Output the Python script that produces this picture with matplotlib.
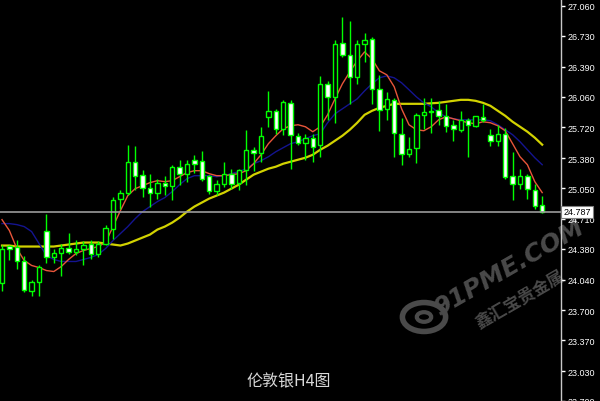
"""伦敦银 H4 K线图（MT4 风格）。"""

import matplotlib

matplotlib.use("Agg")
import matplotlib.pyplot as plt
from matplotlib.patches import Circle, Rectangle

OPEN = [
    23.997, 24.408, 24.405, 24.240, 23.909, 24.008, 24.581, 24.284, 24.339, 24.394,
    24.350, 24.383, 24.438, 24.320, 24.438, 24.603, 24.926, 25.000, 25.341, 25.190,
    25.055, 24.996, 25.107, 25.074, 25.286, 25.209, 25.356, 25.349, 25.179, 25.022,
    25.099, 25.209, 25.107, 25.253, 25.466, 25.440, 25.834, 25.906, 25.705, 25.991,
    25.624, 25.547, 25.606, 25.521, 26.201, 26.054, 26.649, 26.520, 26.274, 26.641,
    26.696, 26.146, 25.925, 26.024, 25.650, 25.429, 25.492, 25.859, 25.906, 25.914,
    25.851, 25.741, 25.694, 25.796, 25.735, 25.840, 25.639, 25.565, 25.650, 25.184,
    25.091, 25.184, 25.025, 24.860,
]
HIGH = [
    24.419, 24.427, 24.474, 24.295, 24.034, 24.199, 24.761, 24.383, 24.430, 24.559,
    24.474, 24.463, 24.474, 24.463, 24.647, 24.956, 25.025, 25.529, 25.514, 25.245,
    25.201, 25.154, 25.184, 25.300, 25.356, 25.356, 25.418, 25.455, 25.190, 25.135,
    25.338, 25.256, 25.264, 25.686, 25.503, 25.724, 26.127, 25.925, 26.017, 26.017,
    25.661, 25.650, 25.650, 26.292, 26.237, 26.689, 26.935, 26.898, 26.689, 26.762,
    26.715, 26.300, 26.109, 26.043, 25.823, 25.613, 25.881, 26.043, 26.043, 26.013,
    25.980, 25.796, 25.906, 25.823, 25.851, 25.980, 25.697, 25.741, 25.712, 25.448,
    25.264, 25.209, 25.099, 24.963,
]
LOW = [
    23.912, 24.254, 24.155, 23.898, 23.862, 23.854, 24.218, 24.218, 24.085, 24.317,
    24.306, 24.199, 24.265, 24.284, 24.419, 24.493, 24.823, 24.978, 25.025, 24.952,
    24.846, 24.934, 24.970, 24.915, 25.080, 25.118, 25.220, 25.124, 24.981, 24.970,
    25.063, 25.044, 25.025, 25.080, 25.234, 25.338, 25.724, 25.650, 25.631, 25.264,
    25.521, 25.356, 25.338, 25.393, 25.796, 25.771, 26.501, 25.980, 26.201, 26.440,
    25.980, 25.675, 25.804, 25.393, 25.300, 25.393, 25.330, 25.697, 25.661, 25.749,
    25.668, 25.565, 25.668, 25.393, 25.724, 25.779, 25.514, 25.514, 25.154, 24.915,
    25.044, 24.934, 24.823, 24.779,
]
CLOSE = [
    24.383, 24.375, 24.240, 23.920, 24.008, 24.184, 24.284, 24.339, 24.394, 24.350,
    24.383, 24.427, 24.328, 24.438, 24.614, 24.923, 25.000, 25.341, 25.179, 25.052,
    25.000, 25.110, 25.074, 25.286, 25.209, 25.319, 25.319, 25.154, 25.018, 25.099,
    25.209, 25.099, 25.253, 25.466, 25.440, 25.620, 25.906, 25.705, 25.999, 25.631,
    25.551, 25.606, 25.503, 26.201, 26.054, 26.641, 26.523, 26.281, 26.641, 26.685,
    26.146, 25.917, 26.035, 25.661, 25.429, 25.484, 25.859, 25.895, 25.889, 25.851,
    25.735, 25.697, 25.796, 25.741, 25.845, 25.796, 25.565, 25.642, 25.173, 25.091,
    25.184, 25.036, 24.853, 24.787,
]

# 均线（红：快线，蓝：中线，黄：慢线）
MA_FAST = [
    24.702, 24.581, 24.383, 24.251, 24.196, 24.173, 24.140, 24.129, 24.184, 24.262,
    24.328, 24.361, 24.383, 24.405, 24.449, 24.625, 24.801, 24.967, 25.044, 25.077,
    25.110, 25.132, 25.121, 25.132, 25.176, 25.220, 25.242, 25.242, 25.209, 25.187,
    25.187, 25.198, 25.209, 25.242, 25.319, 25.418, 25.540, 25.628, 25.705, 25.738,
    25.749, 25.727, 25.672, 25.727, 25.859, 26.035, 26.201, 26.333, 26.454, 26.553,
    26.476, 26.344, 26.300, 26.168, 25.925, 25.749, 25.694, 25.683, 25.727, 25.804,
    25.837, 25.815, 25.793, 25.771, 25.760, 25.782, 25.771, 25.738, 25.683, 25.540,
    25.396, 25.308, 25.121, 25.000,
]
MA_MID = [
    24.658, 24.658, 24.647, 24.625, 24.570, 24.438, 24.306, 24.262, 24.240, 24.240,
    24.240, 24.262, 24.284, 24.317, 24.383, 24.471, 24.548, 24.625, 24.713, 24.790,
    24.846, 24.901, 24.945, 25.011, 25.088, 25.154, 25.187, 25.187, 25.187, 25.176,
    25.187, 25.209, 25.231, 25.264, 25.319, 25.352, 25.396, 25.451, 25.496, 25.540,
    25.562, 25.595, 25.628, 25.650, 25.771, 25.870, 25.925, 25.980, 26.035, 26.123,
    26.201, 26.267, 26.289, 26.267, 26.212, 26.135, 26.057, 25.991, 25.947, 25.881,
    25.837, 25.815, 25.804, 25.804, 25.804, 25.804, 25.793, 25.749, 25.694, 25.639,
    25.562, 25.473, 25.385, 25.308,
]
MA_SLOW = [
    24.416, 24.416, 24.405, 24.405, 24.405, 24.405, 24.405, 24.405, 24.416, 24.427,
    24.438, 24.449, 24.449, 24.449, 24.438, 24.427, 24.416, 24.438, 24.471, 24.504,
    24.537, 24.592, 24.625, 24.669, 24.724, 24.790, 24.846, 24.890, 24.934, 24.967,
    25.000, 25.044, 25.088, 25.143, 25.198, 25.231, 25.264, 25.286, 25.319, 25.341,
    25.363, 25.385, 25.418, 25.473, 25.518, 25.573, 25.628, 25.694, 25.771, 25.859,
    25.903, 25.936, 25.958, 25.980, 25.980, 25.980, 25.980, 25.980, 25.986, 25.991,
    26.002, 26.013, 26.024, 26.024, 26.013, 25.991, 25.958, 25.903, 25.848, 25.782,
    25.727, 25.672, 25.606, 25.529,
]

LAST_PRICE = 24.787
Y_TICKS = [27.060, 26.730, 26.390, 26.060, 25.720, 25.380, 25.050,
           24.710, 24.380, 24.040, 23.700, 23.370, 23.030, 22.700]
TITLE = "伦敦银H4图"

GREEN = "#00ff00"
MARK = "#4a4a4a"
CJK = ["Noto Sans CJK SC", "DejaVu Sans"]


def draw_candles(ax):
    width = 0.6
    for i, (o, h, l, c) in enumerate(zip(OPEN, HIGH, LOW, CLOSE)):
        ax.vlines(i, l, h, color=GREEN, lw=1, zorder=3)
        bottom = min(o, c)
        height = max(abs(c - o), 0.012)
        face = "black" if c > o else "white"
        ax.add_patch(Rectangle((i - width / 2, bottom), width, height,
                               facecolor=face, edgecolor=GREEN, lw=1, zorder=4))


def draw_watermark(fig):
    # 水印放在坐标轴之下
    fig.text(510 / 600, 1 - 268 / 402, "91PME.COM", color=MARK,
             fontsize=18, fontweight="bold", style="italic", rotation=30,
             ha="center", va="center", zorder=-1)
    fig.text(520 / 600, 1 - 300 / 402, "鑫汇宝贵金属", color=MARK,
             fontsize=12, fontweight="bold", rotation=30, family=CJK,
             ha="center", va="center", zorder=-1)
    fig.patches.append(Circle((424 / 600, 1 - 318 / 402), 0.036,
                              transform=fig.transFigure, fill=False,
                              edgecolor=MARK, lw=4, zorder=-1))
    fig.patches.append(Circle((424 / 600, 1 - 318 / 402), 0.012,
                              transform=fig.transFigure, fill=False,
                              edgecolor=MARK, lw=3, zorder=-1))


def main():
    fig = plt.figure(figsize=(6.0, 4.02), dpi=100, facecolor="black")
    ax = fig.add_axes([0, 0, 561 / 600, 1])
    ax.set_facecolor("none")

    x = list(range(len(CLOSE)))
    ax.plot(x, MA_SLOW, color="#d2d200", lw=1.6, zorder=2)
    ax.plot(x, MA_MID, color="#141490", lw=1.0, zorder=2)
    ax.plot(x, MA_FAST, color="#e8553a", lw=1.0, zorder=2)
    draw_candles(ax)

    ax.axhline(LAST_PRICE, color="#9a9a9a", lw=1.2, zorder=5)

    ax.set_xlim(-0.27, 75.54)
    ax.set_ylim(22.70, 27.137)

    ax.yaxis.tick_right()
    ax.set_yticks(Y_TICKS)
    ax.set_yticklabels([f"{v:.3f}" for v in Y_TICKS], family="Liberation Sans")
    ax.tick_params(axis="y", colors="white", labelcolor="white", length=3,
                   width=1, labelsize=6.5, pad=2)
    ax.set_xticks([])
    for side in ("top", "left", "bottom"):
        ax.spines[side].set_visible(False)
    ax.spines["right"].set_color("#c8c8c8")
    ax.spines["right"].set_linewidth(1)

    ax.text(1.004, LAST_PRICE, f"{LAST_PRICE:.3f}", transform=ax.get_yaxis_transform(),
            ha="left", va="center", fontsize=6.5, family="Liberation Sans",
            color="black", zorder=10, clip_on=False,
            bbox=dict(boxstyle="square,pad=0.2", facecolor="white",
                      edgecolor="#808080", lw=0.8))

    draw_watermark(fig)

    fig.text(289 / 600, 1 - 382 / 402, TITLE, color="#d8d8d8", fontsize=11.5,
             family=CJK, ha="center", va="center")

    fig.savefig("out.png", dpi=100, facecolor="black")
    plt.close(fig)


if __name__ == "__main__":
    main()
